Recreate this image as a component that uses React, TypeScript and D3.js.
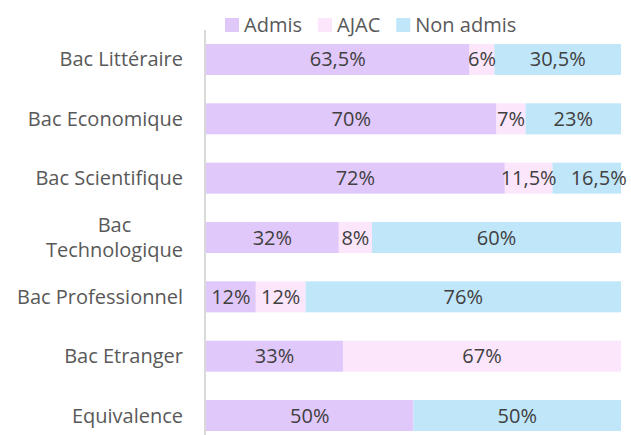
import React, { useEffect, useRef } from "react";
import * as d3 from "d3";

const categories = [
  "Bac Littéraire",
  "Bac Economique",
  "Bac Scientifique",
  "Bac Technologique",
  "Bac Professionnel",
  "Bac Etranger",
  "Equivalence",
];
const seriesNames = ["Admis", "AJAC", "Non admis"];
const admis = [63.5, 70, 72, 32, 12, 33, 50];
const ajac = [6, 7, 11.5, 8, 12, 67, 0];
const nonAdmis = [30.5, 23, 16.5, 60, 76, 0, 50];
const colors = ["#E0C8FA", "#FCE6FC", "#C0E6FA"];

const W = 631;
const H = 435;
const FONT = "'Open Sans', 'Noto Sans', sans-serif";
const FS = 20;
const TEXT = "#404040";
const LABEL = "#595959";

export default function App() {
  const ref = useRef<SVGSVGElement>(null);
  useEffect(() => {
    const svg = d3.select(ref.current);
    svg.selectAll("*").remove();
    const x = d3.scaleLinear().domain([0, 100]).range([206, 621]);
    const y = d3
      .scaleBand()
      .domain(categories)
      .range([29.8, 445.2])
      .paddingInner(0.4775)
      .paddingOuter(0.23875);

    const rows = categories.map((c, i) => ({ c, vals: [admis[i], ajac[i], nonAdmis[i]] }));
    const g = svg.append("g");
    rows.forEach((r) => {
      let acc = 0;
      r.vals.forEach((v, k) => {
        const x0 = x(acc);
        const x1 = x(acc + v);
        acc += v;
        if (v <= 0) return;
        g.append("rect")
          .attr("x", x0)
          .attr("y", y(r.c)!)
          .attr("width", x1 - x0)
          .attr("height", y.bandwidth())
          .attr("fill", colors[k]);
      });
    });
    rows.forEach((r) => {
      let acc = 0;
      let prevRight = -Infinity;
      r.vals.forEach((v) => {
        const x0 = x(acc);
        const x1 = x(acc + v);
        acc += v;
        if (v <= 0) return;
        const t = g
          .append("text")
          .attr("x", (x0 + x1) / 2)
          .attr("y", y(r.c)! + y.bandwidth() / 2)
          .attr("dy", "0.35em")
          .attr("text-anchor", "middle")
          .attr("font-family", FONT)
          .attr("font-size", FS)
          .attr("fill", TEXT)
          .text(String(v).replace(".", ",") + "%");
        const w = (t.node() as SVGTextElement).getComputedTextLength();
        let cx = (x0 + x1) / 2;
        if (cx - w / 2 - prevRight < 6) {
          cx = prevRight + 14 + w / 2;
          t.attr("x", cx);
        }
        prevRight = cx + w / 2;
      });
    });

    // axis line
    svg
      .append("line")
      .attr("x1", 205)
      .attr("x2", 205)
      .attr("y1", 30)
      .attr("y2", H)
      .attr("stroke", "#D9D9D9")
      .attr("stroke-width", 2);

    // category labels
    const labelX = 183;
    categories.forEach((c) => {
      const cy = y(c)! + y.bandwidth() / 2;
      if (c === "Bac Technologique") {
        const t2 = svg
          .append("text")
          .attr("x", labelX)
          .attr("y", cy + 12.5)
          .attr("dy", "0.35em")
          .attr("text-anchor", "end")
          .attr("font-family", FONT)
          .attr("font-size", FS)
          .attr("fill", LABEL)
          .text("Technologique");
        const w = (t2.node() as SVGTextElement).getComputedTextLength();
        svg
          .append("text")
          .attr("x", labelX - w / 2)
          .attr("y", cy - 12.5)
          .attr("dy", "0.35em")
          .attr("text-anchor", "middle")
          .attr("font-family", FONT)
          .attr("font-size", FS)
          .attr("fill", LABEL)
          .text("Bac");
      } else {
        svg
          .append("text")
          .attr("x", labelX)
          .attr("y", cy)
          .attr("dy", "0.35em")
          .attr("text-anchor", "end")
          .attr("font-family", FONT)
          .attr("font-size", FS)
          .attr("fill", LABEL)
          .text(c);
      }
    });

    // legend
    let lx = 225;
    seriesNames.forEach((s, k) => {
      const lg = svg.append("g").attr("transform", `translate(${lx},0)`);
      lg.append("rect").attr("x", 0).attr("y", 18).attr("width", 14).attr("height", 14).attr("fill", colors[k]);
      const t = lg
        .append("text")
        .attr("x", 19)
        .attr("y", 32)
        .attr("font-family", FONT)
        .attr("font-size", FS)
        .attr("fill", LABEL)
        .text(s);
      const w = (t.node() as SVGTextElement).getComputedTextLength();
      lx += 19 + w + 16;
    });
  }, []);
  return (
    <svg
      ref={ref}
      width={W}
      height={H}
      style={{ position: "absolute", left: 0, top: 0, background: "#fff" }}
    />
  );
}
